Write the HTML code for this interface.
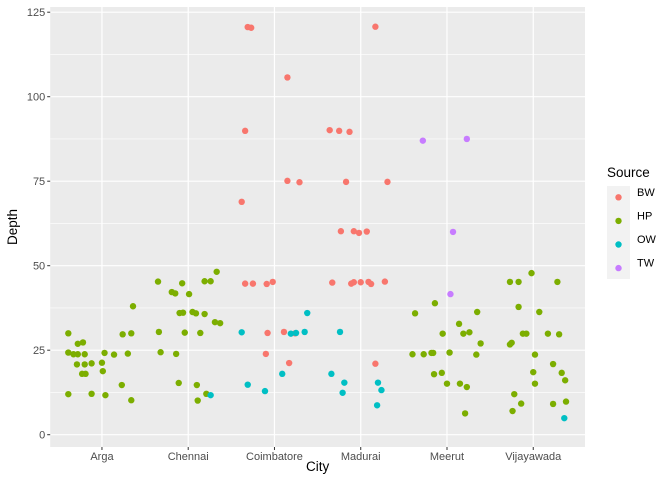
<!DOCTYPE html>
<html><head><meta charset="utf-8"><style>
body{margin:0;background:#fff;font-family:"Liberation Sans",sans-serif;}
svg{display:block}
</style></head><body>
<svg id="chart" width="672" height="480"></svg>
<script>
const categories=["Arga","Chennai","Coimbatore","Madurai","Meerut","Vijayawada"];
const sources=["BW","HP","OW","TW"];
const colors=["#F8766D","#7CAE00","#00BFC4","#C77CFF"];
const yTicks=[0,25,50,75,100,125];
// each point: city index, jitter (category units), depth, source index
const cityIdx=[0,0,0,0,0,0,0,0,0,0,0,0,0,0,0,0,0,0,0,0,0,0,0,0,0,
1,1,1,1,1,1,1,1,1,1,1,1,1,1,1,1,1,1,1,1,1,1,1,1,1,
2,2,2,2,2,2,2,2,2,2,2,2,2,2,2,2,2,2,2,2,2,2,2,2,
3,3,3,3,3,3,3,3,3,3,3,3,3,3,3,3,3,3,3,3,3,3,3,3,3,
4,4,4,4,4,4,4,4,4,4,4,4,4,4,4,4,4,4,4,4,4,4,4,4,
5,5,5,5,5,5,5,5,5,5,5,5,5,5,5,5,5,5,5,5,5,5,5,5];
const jitter=[-0.39,-0.28,-0.22,-0.39,-0.33,-0.28,-0.20,-0.29,-0.20,-0.12,-0.23,-0.19,-0.39,-0.12,0.03,0.14,0.30,0.00,0.01,0.04,0.23,0.34,0.24,0.34,0.36,
-0.35,-0.07,0.19,0.26,0.33,-0.19,-0.15,0.01,-0.10,-0.06,0.05,0.09,0.19,0.31,0.37,-0.34,-0.04,0.14,-0.32,-0.14,-0.11,0.10,0.21,0.11,0.26,
-0.31,-0.27,0.15,-0.34,0.15,0.29,-0.38,-0.34,-0.25,-0.09,-0.02,-0.08,0.11,0.24,-0.10,0.17,-0.38,0.19,0.25,0.35,0.38,0.09,-0.31,-0.11,
0.17,-0.36,-0.25,-0.13,-0.17,0.31,-0.23,-0.08,-0.02,0.07,-0.33,-0.11,-0.08,0.00,0.09,0.12,0.28,0.17,-0.24,-0.34,-0.19,-0.21,0.20,0.24,0.19,
-0.28,0.23,0.07,0.04,-0.14,-0.37,0.35,0.14,-0.05,0.19,0.26,0.39,-0.40,-0.27,-0.18,-0.16,0.03,0.34,-0.15,-0.06,0.00,0.15,0.23,0.21,
-0.02,-0.27,-0.17,0.28,-0.17,0.07,-0.12,-0.08,0.17,0.30,-0.27,-0.25,0.02,0.23,0.00,0.33,0.37,0.02,-0.22,-0.14,0.23,0.38,-0.24,0.36];
const depth=[30.0,26.9,27.3,24.3,23.8,23.8,23.8,20.8,20.8,21.1,18.0,18.0,12.0,12.1,24.2,23.7,24.0,21.3,18.8,11.7,14.7,10.2,29.7,30.0,38.0,
45.3,44.8,45.4,45.4,48.2,42.2,41.8,41.6,36.0,36.1,36.3,35.9,35.7,33.3,33.0,30.4,30.2,30.1,24.4,23.9,15.3,14.7,12.1,10.1,11.7,
120.6,120.4,105.7,89.9,75.1,74.7,68.9,44.7,44.7,44.6,45.2,30.1,30.4,30.0,23.9,21.2,30.3,29.9,30.1,30.4,36.0,18.0,14.8,12.9,
120.7,90.1,89.9,89.6,74.8,74.8,60.2,60.2,59.7,60.1,45.0,44.7,45.1,45.1,45.2,44.6,45.3,21.0,30.4,18.0,15.4,12.4,15.4,13.2,8.7,
87.0,87.5,60.0,41.6,38.9,35.9,36.3,32.8,29.9,29.9,30.3,27.0,23.8,23.8,24.2,24.2,24.3,23.7,17.9,18.3,15.1,15.1,14.1,6.3,
47.8,45.2,45.2,45.2,37.8,36.3,29.9,29.9,29.9,29.7,26.7,27.2,23.7,20.9,18.5,18.3,16.1,15.1,12.0,9.2,9.1,9.8,7.0,4.9];
const srcIdx=[1,1,1,1,1,1,1,1,1,1,1,1,1,1,1,1,1,1,1,1,1,1,1,1,1,
1,1,1,1,1,1,1,1,1,1,1,1,1,1,1,1,1,1,1,1,1,1,1,1,2,
0,0,0,0,0,0,0,0,0,0,0,0,0,0,0,0,2,2,2,2,2,2,2,2,
0,0,0,0,0,0,0,0,0,0,0,0,0,0,0,0,0,0,2,2,2,2,2,2,2,
3,3,3,3,1,1,1,1,1,1,1,1,1,1,1,1,1,1,1,1,1,1,1,1,
1,1,1,1,1,1,1,1,1,1,1,1,1,1,1,1,1,1,1,1,1,1,1,2];

const NS="http://www.w3.org/2000/svg";
const svg=document.getElementById('chart');
const PL=50.2,PR=585,PT=7,PB=447;
const step=(PR-PL)/(categories.length-1+1.2);
function xScale(v){return PL+(v+0.6)*step;}
function yScale(v){return 434.7-v*3.38;}
function mk(t,a,p){const e=document.createElementNS(NS,t);for(const k in a)e.setAttribute(k,a[k]);(p||svg).appendChild(e);return e;}

const panel=mk('rect',{x:PL,y:PT,width:PR-PL,height:PB-PT,fill:'#EBEBEB'});


for(let i=0;i<yTicks.length-1;i++){
  const y=yScale((yTicks[i]+yTicks[i+1])/2);
  const l=mk('line',{x1:PL,x2:PR,y1:y,y2:y,stroke:'#fff','stroke-width':0.6});
  
  
}
yTicks.forEach(v=>{
  const y=yScale(v);
  const l=mk('line',{x1:PL,x2:PR,y1:y,y2:y,stroke:'#fff','stroke-width':1.2});
  
  
  const tk=mk('line',{x1:PL-3,x2:PL,y1:y,y2:y,stroke:'#333','stroke-width':1});
  
  
  const t=mk('text',{x:PL-5,y:y+4,'text-anchor':'end','font-size':11,fill:'#4D4D4D'});
  t.textContent=v;
  
  
});
categories.forEach((c,i)=>{
  const x=xScale(i);
  const l=mk('line',{x1:x,x2:x,y1:PT,y2:PB,stroke:'#fff','stroke-width':1.2});
  
  
  const tk=mk('line',{x1:x,x2:x,y1:PB,y2:PB+3,stroke:'#333','stroke-width':1});
  
  
  const t=mk('text',{x:x,y:PB+13,'text-anchor':'middle','font-size':11,fill:'#4D4D4D'});
  t.textContent=c;
  
  
});
for(let i=0;i<depth.length;i++){
  const p=mk('circle',{cx:xScale(cityIdx[i]+jitter[i]),cy:yScale(depth[i]),r:3.2,fill:colors[srcIdx[i]]});
  
  
}
const xt=mk('text',{x:(PL+PR)/2,y:471,'text-anchor':'middle','font-size':13.5,fill:'#000'});
xt.textContent='City';


const yt=mk('text',{x:0,y:0,'text-anchor':'middle','font-size':13.5,fill:'#000',transform:'translate(17,'+((PT+PB)/2)+') rotate(-90)'});
yt.textContent='Depth';


const lt=mk('text',{x:607,y:177,'font-size':13.5,fill:'#000'});
lt.textContent='Source';


const lb=mk('rect',{x:607,y:186,width:23,height:93,fill:'#F2F2F2'});


sources.forEach((s,i)=>{
  const y=197.3+i*23.6;
  const g=mk('g',{});
  
  
  mk('circle',{cx:618.5,cy:y,r:3.2,fill:colors[i]},g);
  const t=mk('text',{x:637,y:y-1.5,'font-size':11,fill:'#000'},g);
  t.textContent=s;
});
</script>
</body></html>
